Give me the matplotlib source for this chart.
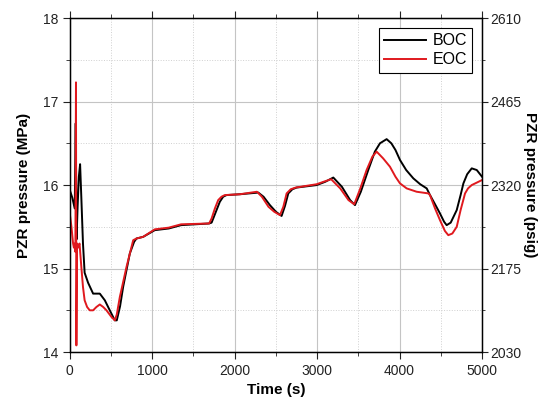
import matplotlib
matplotlib.use('Agg')
import matplotlib.pyplot as plt
from matplotlib.ticker import MultipleLocator

plt.rcParams['font.family'] = ['Liberation Sans', 'DejaVu Sans']

# BOC trace (time s, pressure MPa)
boc_t = [0, 30, 60, 72, 82, 95, 110, 125, 140, 160, 180, 222, 283, 364, 425, 485,
         546, 570, 610, 647, 728, 780, 809, 890, 1031, 1200, 1350, 1690, 1720,
         1760, 1820, 1860, 1901, 2063, 2286, 2350, 2427, 2500, 2569, 2610, 2650,
         2700, 2751, 2994, 3100, 3196, 3300, 3400, 3459, 3530, 3620, 3700, 3762,
         3843, 3900, 3950, 4005, 4080, 4167, 4250, 4329, 4369, 4430, 4490, 4540,
         4571, 4620, 4693, 4740, 4774, 4820, 4875, 4936, 5000]
boc_p = [15.94, 15.85, 15.72, 16.74, 15.35, 15.75, 16.10, 16.25, 15.85, 15.30,
         14.95, 14.83, 14.70, 14.70, 14.62, 14.50, 14.38, 14.38, 14.55, 14.78,
         15.18, 15.32, 15.36, 15.38, 15.46, 15.48, 15.52, 15.54, 15.55, 15.65,
         15.80, 15.86, 15.88, 15.89, 15.91, 15.86, 15.76, 15.68, 15.63, 15.75,
         15.90, 15.95, 15.97, 16.00, 16.04, 16.09, 15.98, 15.82, 15.76, 15.92,
         16.18, 16.40, 16.50, 16.55, 16.50, 16.42, 16.30, 16.18, 16.08, 16.01,
         15.96, 15.88, 15.77, 15.66, 15.56, 15.52, 15.55, 15.70, 15.88, 16.02,
         16.13, 16.20, 16.18, 16.10]

# EOC trace
eoc_t = [0, 20, 40, 50, 60, 68, 75, 80, 88, 100, 118, 140, 160, 180, 210, 242,
         283, 323, 364, 405, 445, 506, 546, 570, 607, 688, 769, 809, 890, 1031,
         1200, 1350, 1690, 1720, 1760, 1800, 1840, 1880, 2063, 2270, 2330, 2410,
         2480, 2549, 2590, 2630, 2680, 2740, 2994, 3080, 3170, 3280, 3380, 3450,
         3520, 3600, 3670, 3722, 3800, 3883, 3950, 4005, 4086, 4207, 4349, 4369,
         4430, 4490, 4550, 4591, 4640, 4693, 4740, 4794, 4830, 4875, 5000]
eoc_p = [15.66, 15.50, 15.30, 15.25, 15.30, 15.20, 17.23, 14.08, 15.30, 15.25,
         15.30, 15.02, 14.78, 14.62, 14.54, 14.50, 14.50, 14.54, 14.57, 14.54,
         14.50, 14.42, 14.38, 14.45, 14.66, 15.02, 15.34, 15.36, 15.38, 15.47,
         15.49, 15.53, 15.54, 15.60, 15.72, 15.82, 15.86, 15.88, 15.89, 15.92,
         15.86, 15.74, 15.68, 15.64, 15.74, 15.90, 15.95, 15.97, 16.01, 16.04,
         16.07, 15.96, 15.82, 15.77, 15.95, 16.18, 16.34, 16.40, 16.32, 16.22,
         16.10, 16.02, 15.96, 15.92, 15.90, 15.88, 15.72, 15.58, 15.45, 15.40,
         15.42, 15.50, 15.70, 15.90, 15.96, 16.00, 16.06]

psig_ticks = [2030, 2175, 2320, 2465, 2610]

fig = plt.figure(figsize=(5.41, 4.01), dpi=100)
ax = fig.add_axes([0.129, 0.122, 0.762, 0.833])

ax.plot(boc_t, boc_p, color='black', lw=1.4, label='BOC')
ax.plot(eoc_t, eoc_p, color='#e0191e', lw=1.4, label='EOC')

ax.set_xlim(0, 5000)
ax.set_ylim(14, 18)
ax.xaxis.set_major_locator(MultipleLocator(1000))
ax.xaxis.set_minor_locator(MultipleLocator(500))
ax.yaxis.set_major_locator(MultipleLocator(1))
ax.yaxis.set_minor_locator(MultipleLocator(0.5))

ax.grid(which='major', color='#c4c4c4', lw=0.8, ls='-')
ax.grid(which='minor', color='#d0d0d0', lw=0.7, ls=':')
ax.set_axisbelow(True)

ax.tick_params(which='both', direction='out', labelsize=10, colors='#222222',
               top=True, labeltop=False)
ax.tick_params(which='major', length=5)
ax.tick_params(which='minor', length=3)
for s in ax.spines.values():
    s.set_linewidth(1.0)

ax.set_xlabel('Time (s)', fontsize=11, fontweight='bold')
ax.set_ylabel('PZR pressure (MPa)', fontsize=11, fontweight='bold', labelpad=8)

# right axis in psig (1 MPa = 145 psi)
ax2 = ax.twinx()
ax2.set_ylim(14 * 145, 18 * 145)
ax2.set_yticks(psig_ticks)
ax2.yaxis.set_minor_locator(MultipleLocator(72.5))
ax2.tick_params(which='both', direction='out', labelsize=10, colors='#222222')
ax2.tick_params(which='major', length=4, pad=2)
ax2.tick_params(which='minor', length=2.5)
ax2.set_ylabel('PZR pressure (psig)', fontsize=11, fontweight='bold',
               rotation=270, labelpad=11)

leg = ax.legend(loc='upper right', fontsize=11.5, frameon=True, fancybox=False,
                edgecolor='black', framealpha=1, handlelength=2.6,
                borderaxespad=0.6, borderpad=0.35, labelspacing=0.25,
                handletextpad=0.4)
leg.get_frame().set_linewidth(0.8)

fig.savefig('out.png', dpi=100)
